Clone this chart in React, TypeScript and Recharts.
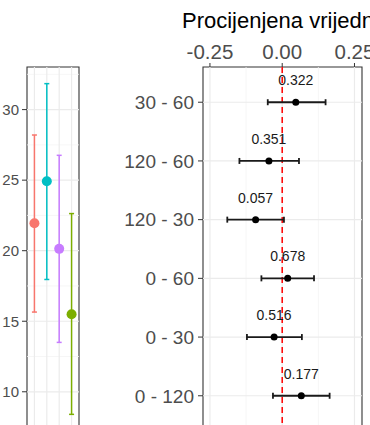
import React from "react";
import {
  ComposedChart,
  Scatter,
  XAxis,
  YAxis,
  ErrorBar,
  ReferenceLine,
  ReferenceArea,
} from "recharts";

/* ------------------------------------------------------------------ */
/* Data                                                                */
/* ------------------------------------------------------------------ */

// left panel: four groups, mean with interval
const groups = [1, 2, 3, 4];
const groupMean = [21.95, 24.92, 20.13, 15.5];
const groupLow = [15.65, 17.96, 13.5, 8.4];
const groupHigh = [28.2, 31.84, 26.76, 22.63];
const leftTicks = [10, 15, 20, 25, 30];
const leftMinor = [7.5, 12.5, 17.5, 22.5, 27.5, 32.5];

// right panel: pairwise differences
const comparisons = ["30 - 60", "120 - 60", "120 - 30", "0 - 60", "0 - 30", "0 - 120"];
const estimates = [0.047, -0.046, -0.092, 0.019, -0.028, 0.066];
const ciLow = [-0.05, -0.148, -0.19, -0.072, -0.122, -0.032];
const ciHigh = [0.15, 0.058, 0.006, 0.11, 0.068, 0.164];
const pValues = ["0.322", "0.351", "0.057", "0.678", "0.516", "0.177"];
const estTicks = [-0.25, 0, 0.25];
const estMinor = [-0.125, 0.125];

const groupColors = ["#F8766D", "#00BFC4", "#C77CFF", "#7CAE00"];
const MAJOR = "#ebebeb";
const MINOR = "#f4f4f4";

const LEFT_X = [0.4, 4.6];
const LEFT_Y = [7.22, 33.02];
const RIGHT_X = [-0.274, 0.276];
const RIGHT_Y = [0.4, 6.6];

const leftData = groups.map((g, i) => ({
  x: g,
  y: groupMean[i],
  err: [groupMean[i] - groupLow[i], groupHigh[i] - groupMean[i]],
}));

// top row first -> highest position
const positions = comparisons.map((_, i) => comparisons.length - i);
const rightData = comparisons.map((c, i) => ({
  x: estimates[i],
  y: positions[i],
  err: [estimates[i] - ciLow[i], ciHigh[i] - estimates[i]],
  p: pValues[i],
}));

/* ------------------------------------------------------------------ */
/* Left panel                                                          */
/* ------------------------------------------------------------------ */

function GroupPanel() {
  return (
    <ComposedChart width={82} height={440} margin={{ top: 67, right: 3, bottom: 9, left: 0 }}>
      <XAxis type="number" dataKey="x" domain={LEFT_X} hide allowDataOverflow />
      <YAxis
        type="number"
        dataKey="y"
        domain={LEFT_Y}
        ticks={leftTicks}
        interval={0}
        allowDataOverflow
        width={27}
        tickSize={5}
        tickMargin={3}
        axisLine={false}
        tickLine={{ stroke: "#333" }}
        tick={{ fontSize: 15, fill: "#4d4d4d" }}
      />
      {leftMinor.map((v) => (
        <ReferenceLine key={"lm" + v} y={v} stroke={MINOR} strokeWidth={0.8} />
      ))}
      {leftTicks.map((v) => (
        <ReferenceLine key={"lt" + v} y={v} stroke={MAJOR} strokeWidth={1.2} />
      ))}
      {groups.map((v) => (
        <ReferenceLine key={"lg" + v} x={v} stroke={MAJOR} strokeWidth={1.2} />
      ))}
      {leftData.map((d, i) => (
        <Scatter
          key={i}
          data={[d]}
          isAnimationActive={false}
          shape={(p: any) => <circle cx={p.cx} cy={p.cy} r={5} fill={groupColors[i]} />}
        >
          <ErrorBar dataKey="err" direction="y" width={2.5} stroke={groupColors[i]} strokeWidth={1.5} />
        </Scatter>
      ))}
      <ReferenceArea
        x1={LEFT_X[0]}
        x2={LEFT_X[1]}
        y1={LEFT_Y[0]}
        y2={LEFT_Y[1]}
        fill="none"
        fillOpacity={0}
        stroke="#333"
        strokeWidth={1.1}
      />
    </ComposedChart>
  );
}

/* ------------------------------------------------------------------ */
/* Right panel (forest plot)                                           */
/* ------------------------------------------------------------------ */

function ForestPanel() {
  return (
    <ComposedChart width={270} height={440} margin={{ top: 37, right: 8, bottom: 9, left: 0 }}>
      <XAxis
        type="number"
        dataKey="x"
        orientation="top"
        domain={RIGHT_X}
        ticks={estTicks}
        interval={0}
        allowDataOverflow
        height={30}
        tickSize={4}
        tickMargin={4}
        axisLine={false}
        tickLine={{ stroke: "#333" }}
        tick={{ fontSize: 20.5, fill: "#4d4d4d" }}
        tickFormatter={(v: number) => v.toFixed(2)}
      />
      <YAxis
        type="number"
        dataKey="y"
        domain={RIGHT_Y}
        ticks={positions}
        interval={0}
        allowDataOverflow
        width={103}
        tickSize={5}
        tickMargin={4}
        axisLine={false}
        tickLine={{ stroke: "#333" }}
        tick={{ fontSize: 19, fill: "#4d4d4d" }}
        tickFormatter={(v: number) => comparisons[positions.indexOf(v)] ?? ""}
      />
      {estMinor.map((v) => (
        <ReferenceLine key={"rm" + v} x={v} stroke={MINOR} strokeWidth={0.8} />
      ))}
      {estTicks.map((v) => (
        <ReferenceLine key={"rt" + v} x={v} stroke={MAJOR} strokeWidth={1.2} />
      ))}
      {positions.map((v) => (
        <ReferenceLine key={"rp" + v} y={v} stroke={MAJOR} strokeWidth={1.2} />
      ))}
      <ReferenceLine x={0} stroke="#ff0000" strokeWidth={1.5} strokeDasharray="6 4" />
      <Scatter
        data={rightData}
        isAnimationActive={false}
        shape={(p: any) => <circle cx={p.cx} cy={p.cy} r={3.5} fill="#000" />}
      >
        <ErrorBar dataKey="err" direction="x" width={3} stroke="#1a1a1a" strokeWidth={1.8} />
      </Scatter>
      <Scatter
        data={rightData}
        isAnimationActive={false}
        shape={(p: any) => (
          <text x={p.cx} y={p.cy - 17} textAnchor="middle" fontSize={14} fill="#1a1a1a">
            {p.payload.p}
          </text>
        )}
      />
      <ReferenceArea
        x1={RIGHT_X[0]}
        x2={RIGHT_X[1]}
        y1={RIGHT_Y[0]}
        y2={RIGHT_Y[1]}
        fill="none"
        fillOpacity={0}
        stroke="#333"
        strokeWidth={1.1}
      />
    </ComposedChart>
  );
}

export default function App() {
  return (
    <div
      style={{
        position: "absolute",
        left: 0,
        top: 0,
        width: 370,
        height: 425,
        overflow: "hidden",
        background: "#fff",
        fontFamily: "'Liberation Sans', Arial, sans-serif",
      }}
    >
      <div
        style={{
          position: "absolute",
          left: 182,
          top: 10,
          fontSize: 22,
          lineHeight: "22px",
          color: "#000",
          whiteSpace: "nowrap",
        }}
      >
        Procijenjena vrijednost
      </div>
      <div style={{ position: "absolute", left: 0, top: 0 }}>
        <GroupPanel />
      </div>
      <div style={{ position: "absolute", left: 100, top: 0 }}>
        <ForestPanel />
      </div>
    </div>
  );
}
